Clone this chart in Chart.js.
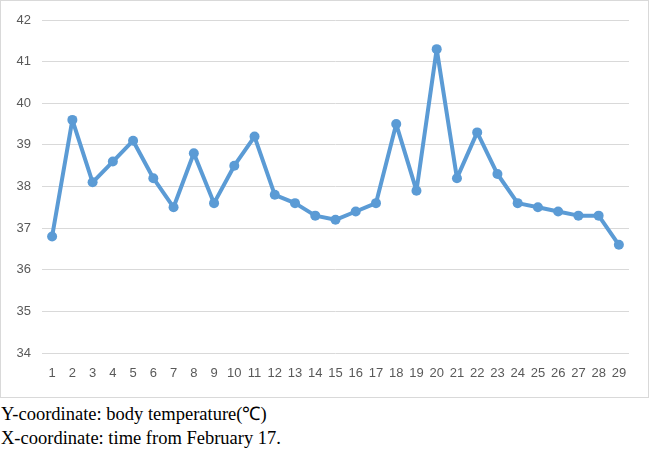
<!DOCTYPE html>
<html>
<head>
<meta charset="utf-8">
<script src="https://cdn.jsdelivr.net/npm/chart.js@4/dist/chart.umd.min.js"></script>
<style>
  html, body { margin: 0; padding: 0; background: #fff; }
  #box { position: absolute; left: 0; top: 0; width: 647px; height: 396px; border: 1px solid #d9d9d9; }
  #box canvas { display: block; }
  .note { position: absolute; left: 1px; font-family: "Liberation Serif", "Times New Roman", serif; font-size: 18.5px; color: #000; white-space: nowrap; }
</style>
</head>
<body>
<div id="box"><canvas id="c" width="647" height="396"></canvas></div>
<div class="note" style="top:400px;">Y-coordinate: body temperature(℃)</div>
<div class="note" style="top:428px;">X-coordinate: time from February 17.</div>
<script>
const days = ["1","2","3","4","5","6","7","8","9","10","11","12","13","14","15","16","17","18","19","20","21","22","23","24","25","26","27","28","29"];
const temperature = [36.8,39.6,38.1,38.6,39.1,38.2,37.5,38.8,37.6,38.5,39.2,37.8,37.6,37.3,37.2,37.4,37.6,39.5,37.9,41.3,38.2,39.3,38.3,37.6,37.5,37.4,37.3,37.3,36.6];
const yMin = 34, yMax = 42, yStep = 1;

new Chart(document.getElementById('c'), {
  type: 'line',
  data: {
    labels: days,
    datasets: [{
      data: temperature,
      borderColor: '#5b9bd5',
      backgroundColor: '#5b9bd5',
      borderWidth: 4,
      borderJoinStyle: 'round',
      borderCapStyle: 'round',
      pointRadius: 5,
      pointBackgroundColor: '#5b9bd5',
      pointBorderColor: '#5b9bd5',
      pointBorderWidth: 0,
      tension: 0,
      fill: false
    }]
  },
  options: {
    responsive: false,
    animation: false,
    devicePixelRatio: 1,
    layout: { padding: { left: 0, right: 19, top: 19, bottom: 0 } },
    plugins: { legend: { display: false }, tooltip: { enabled: false } },
    scales: {
      x: {
        offset: true,
        grid: { display: false, drawTicks: false, offset: true },
        border: { display: false },
        ticks: { color: '#595959', font: { family: 'Liberation Sans', size: 13 }, padding: 13, maxRotation: 0, autoSkip: false },
        afterFit: (s) => { s.height = 44; }
      },
      y: {
        min: yMin, max: yMax,
        grid: { color: '#d9d9d9', lineWidth: 1, drawTicks: false },
        border: { display: false },
        ticks: { stepSize: yStep, color: '#595959', font: { family: 'Liberation Sans', size: 13 }, padding: 11 },
        afterFit: (s) => { s.width = 41; }
      }
    }
  }
});
</script>
</body>
</html>
